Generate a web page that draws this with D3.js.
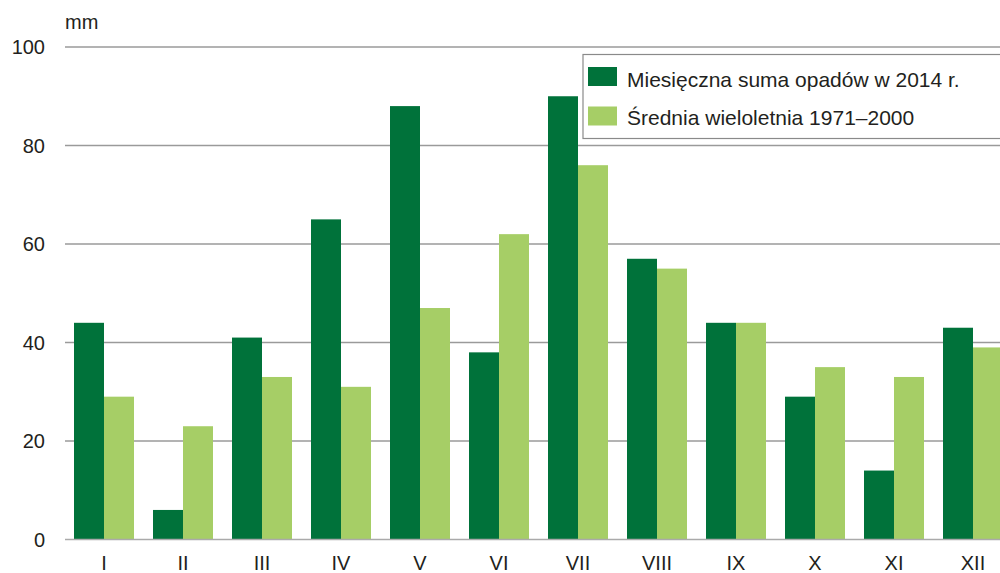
<!DOCTYPE html>
<html><head><meta charset="utf-8">
<script src="https://cdn.jsdelivr.net/npm/d3@7"></script>
<style>body{margin:0;background:#fff;}svg{display:block;font-family:"Liberation Sans",Arial,sans-serif;}</style>
</head><body><svg id="c" width="1000" height="573"></svg>
<script>
const months = ["I","II","III","IV","V","VI","VII","VIII","IX","X","XI","XII"];
const rain2014 = [44,6,41,65,88,38,90,57,44,29,14,43];
const mean1971_2000 = [29,23,33,31,47,62,76,55,44,35,33,39];
const seriesNames = ["Miesięczna suma opadów w 2014 r.","Średnia wieloletnia 1971–2000"];
const yTicks = [0,20,40,60,80,100];
const colors = ["#00723a","#a6ce66"];

const svg = d3.select("#c");
const y = d3.scaleLinear().domain([0,100]).range([539.5,47]);
const x = d3.scaleBand().domain(months).range([64.5,1012.5]).paddingInner(19/79).paddingOuter(9.5/79);
const xs = d3.scaleBand().domain([0,1]).range([0,x.bandwidth()]);

// gridlines
svg.append("g").selectAll("line").data(yTicks.filter(d=>d>0)).join("line")
  .attr("x1",65).attr("x2",1000).attr("y1",d=>y(d)).attr("y2",d=>y(d))
  .attr("stroke","#9a9a9a").attr("stroke-width",1.3);

// bars
const series = [rain2014, mean1971_2000];
series.forEach((vals,si)=>{
  svg.append("g").selectAll("rect").data(months).join("rect")
    .attr("x",(m)=>x(m)+xs(si)).attr("width",xs.bandwidth())
    .attr("y",(m,i)=>y(vals[i])).attr("height",(m,i)=>y(0)-y(vals[i]))
    .attr("fill",colors[si]);
});

// baseline
svg.append("line").attr("x1",65).attr("x2",1000).attr("y1",y(0)).attr("y2",y(0))
  .attr("stroke","#aaaaaa").attr("stroke-width",1.5);

// y labels
svg.append("g").selectAll("text").data(yTicks).join("text")
  .attr("x",45).attr("y",d=>y(d)).attr("dy","0.37em").attr("text-anchor","end")
  .attr("font-size",20).attr("fill","#231f20").text(d=>d);

svg.append("text").attr("x",65).attr("y",29).attr("font-size",20).attr("fill","#231f20").text("mm");

// x labels
svg.append("g").selectAll("text").data(months).join("text")
  .attr("x",m=>x(m)+x.bandwidth()/2).attr("y",570).attr("text-anchor","middle")
  .attr("font-size",20).attr("fill","#231f20").text(m=>m);

// legend
const lg = svg.append("g");
lg.append("rect").attr("x",583).attr("y",54.5).attr("width",430).attr("height",84)
  .attr("fill","#fff").attr("stroke","#8a8a8a").attr("stroke-width",1.2);
seriesNames.forEach((n,i)=>{
  lg.append("rect").attr("x",588).attr("y",67+i*39.5).attr("width",29).attr("height",19).attr("fill",colors[i]);
  lg.append("text").attr("x",627).attr("y",86.5+i*38).attr("font-size",21).attr("fill","#231f20").text(n);
});
</script></body></html>
